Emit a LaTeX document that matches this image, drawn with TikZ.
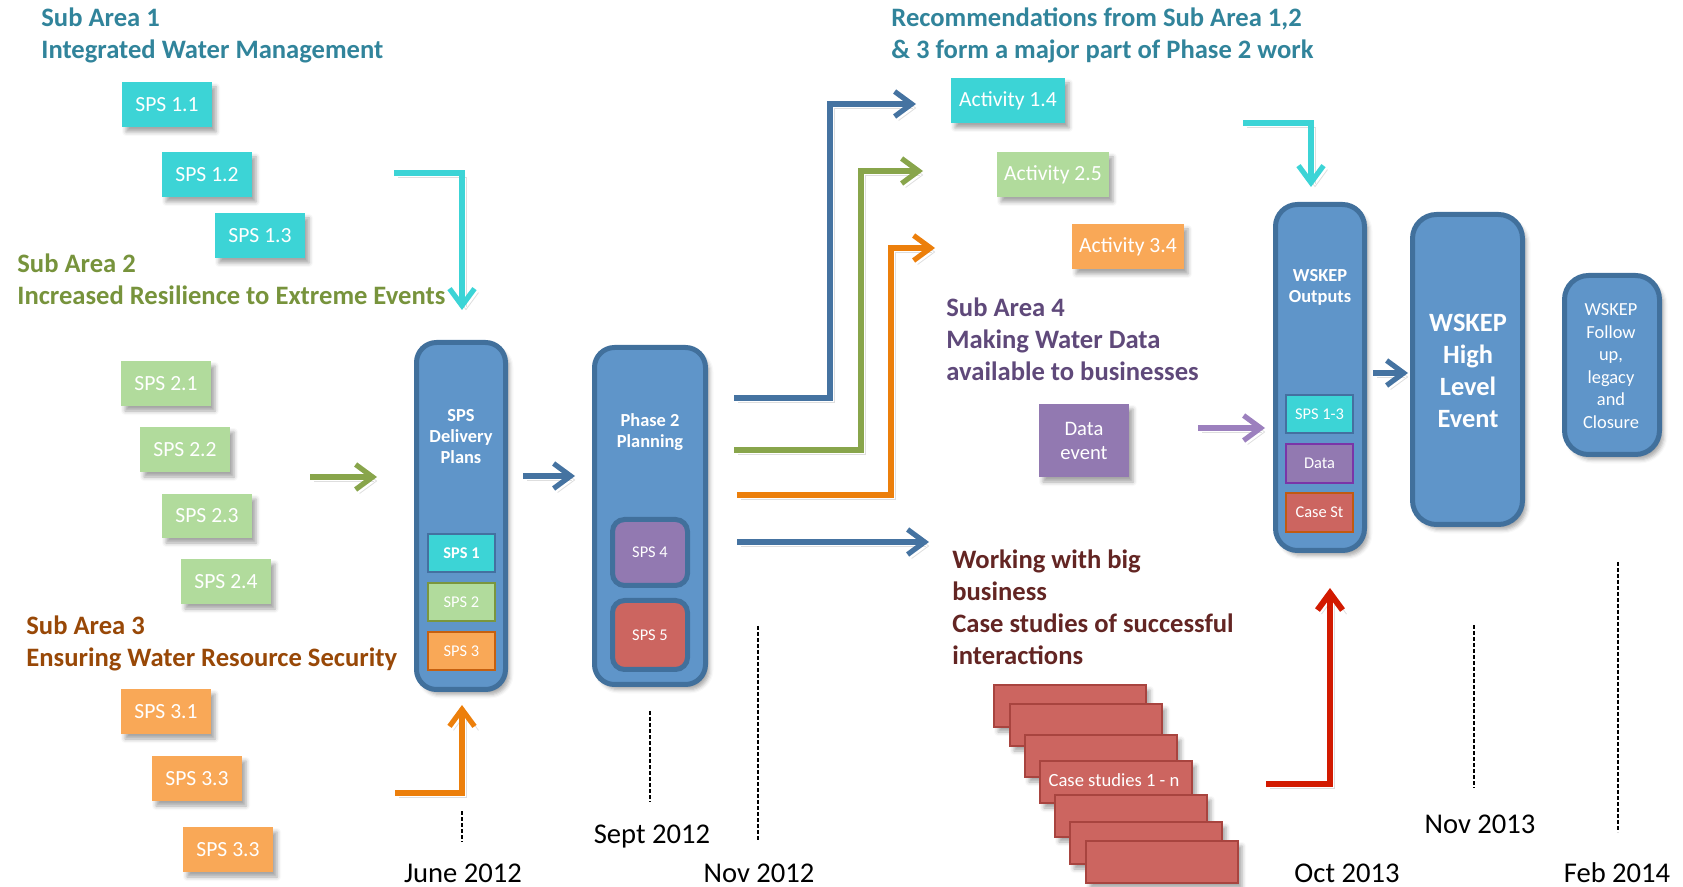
\documentclass[tikz,border=0pt]{standalone}
\usepackage{fontspec}
\setmainfont{Carlito}
\usetikzlibrary{arrows.meta,fit,shadows,shadows.blur}
\definecolor{cy}{HTML}{3CD4D6}
\definecolor{gr}{HTML}{B1DB9C}
\definecolor{og}{HTML}{F9A857}
\definecolor{bl}{HTML}{5F95C9}
\definecolor{blb}{HTML}{41709C}
\definecolor{pu}{HTML}{9279B1}
\definecolor{rd}{HTML}{CC6560}
\definecolor{rdb}{HTML}{A8443F}
\definecolor{grA}{HTML}{88A54B}
\definecolor{ogA}{HTML}{EC7F0B}
\definecolor{blA}{HTML}{4573A1}
\definecolor{puA}{HTML}{9C80BE}
\definecolor{rdA}{HTML}{D21A00}
\definecolor{hTeal}{HTML}{31849B}
\definecolor{hGreen}{HTML}{77933C}
\definecolor{hBrown}{HTML}{984807}
\definecolor{hPurple}{HTML}{5F497A}
\definecolor{hRed}{HTML}{632523}
\definecolor{sb1}{HTML}{4470A0}
\definecolor{sb2}{HTML}{7A963E}
\definecolor{sb3}{HTML}{C6600F}
\definecolor{dpu}{HTML}{7A35A8}
\definecolor{cso}{HTML}{C05A12}
\tikzset{
  shd/.style={blur shadow={shadow xshift=2pt, shadow yshift=-2.5pt, shadow blur radius=2pt, shadow opacity=35}},
  sbox/.style={inner sep=0pt, shd},
  stxt/.style={inner sep=0pt, text=white, font=\fontsize{10.8}{13}\selectfont},
  itxt/.style={inner sep=0pt, text=white, font=\fontsize{8.2}{10}\selectfont},
  bigbox/.style={draw=blb, fill=bl, line width=2.5pt, rounded corners=10pt, inner sep=0pt, shd},
  ibox/.style={inner sep=0pt, line width=1pt},
  rbox/.style={inner sep=0pt, draw=blb, line width=2.5pt, rounded corners=6pt},
  conn/.style={line width=2.6pt, -{Straight Barb[length=8.5pt,width=12.5pt]},
    preaction={draw=black, draw opacity=0.13, transform canvas={xshift=2pt,yshift=-2pt}}},
  head/.style={inner sep=0pt, anchor=base west, font=\fontsize{13.3}{16}\selectfont\bfseries},
  boxtxt/.style={inner sep=0pt, text=white, align=center},
  date/.style={inner sep=0pt, anchor=base, font=\fontsize{14.3}{17}\selectfont},
  tl/.style={line width=0.6pt, dash pattern=on 2pt off 1pt},
  cs/.style={inner sep=0pt, fill=rd, draw=rdb, line width=0.7pt, shd}
}
\begin{document}
\begin{tikzpicture}[x=0.5pt,y=-0.5pt]
\useasboundingbox (0,0) rectangle (1683,887);

% headings
\node[head, text=hTeal] (h1a) at (41,27) {Sub Area 1};
\node[head, text=hTeal] (h1b) at (41,59) {Integrated Water Management};
\node[head, text=hGreen] (h2a) at (17,273) {Sub Area 2};
\node[head, text=hGreen] (h2b) at (17,305) {Increased Resilience to Extreme Events};
\node[head, text=hBrown] (h3a) at (26,635) {Sub Area 3};
\node[head, text=hBrown] (h3b) at (26,667) {Ensuring Water Resource Security};
\node[head, text=hTeal] (rca) at (891,27) {Recommendations from Sub Area 1,2};
\node[head, text=hTeal] (rcb) at (891,59) {\& 3 form a major part of Phase 2 work};
\node[head, text=hPurple] (h4a) at (946,317) {Sub Area 4};
\node[head, text=hPurple] (h4b) at (946,349) {Making Water Data};
\node[head, text=hPurple] (h4c) at (946,381) {available to businesses};
\node[head, text=hRed] (wa) at (952,569) {Working with big};
\node[head, text=hRed] (wb) at (952,601) {business};
\node[head, text=hRed] (wc) at (952,633) {Case studies of successful};
\node[head, text=hRed] (wd) at (952,665) {interactions};

% SPS boxes
\node[sbox, fill=cy, fit={(122,82) (212,127)}, label={[stxt]center:SPS 1.1}] (s11) {};
\node[sbox, fill=cy, fit={(162,152) (252,197)}, label={[stxt]center:SPS 1.2}] (s12) {};
\node[sbox, fill=cy, fit={(215,213) (305,258)}, label={[stxt]center:SPS 1.3}] (s13) {};
\node[sbox, fill=gr, fit={(121,361) (211,406)}, label={[stxt]center:SPS 2.1}] (s21) {};
\node[sbox, fill=gr, fit={(140,427) (230,472)}, label={[stxt]center:SPS 2.2}] (s22) {};
\node[sbox, fill=gr, fit={(162,494) (252,538)}, label={[stxt]center:SPS 2.3}] (s23) {};
\node[sbox, fill=gr, fit={(181,559) (271,604)}, label={[stxt]center:SPS 2.4}] (s24) {};
\node[sbox, fill=og, fit={(121,689) (211,734)}, label={[stxt]center:SPS 3.1}] (s31) {};
\node[sbox, fill=og, fit={(152,756) (242,801)}, label={[stxt]center:SPS 3.3}] (s33a) {};
\node[sbox, fill=og, fit={(183,827) (273,872)}, label={[stxt]center:SPS 3.3}] (s33b) {};

% Activities
\node[sbox, fill=cy, fit={(951,78) (1065,123)}, label={[stxt]center:Activity 1.4}] (a14) {};
\node[sbox, fill=gr, fit={(997,152) (1109,197)}, label={[stxt]center:Activity 2.5}] (a25) {};
\node[sbox, fill=og, fit={(1072,224) (1184,269)}, label={[stxt]center:Activity 3.4}] (a34) {};

% Data event
\node[sbox, fill=pu, fit={(1039,404) (1129,477)}] (dev) {};
\node[boxtxt, font=\fontsize{10.3}{12}\selectfont] (devt) at (1084,441) {Data\\event};

% SPS delivery plans
\node[bigbox, fit={(416.5,342.5) (505.5,689.5)}] (sdp) {};
\node[boxtxt, font=\fontsize{9.2}{10.5}\selectfont\bfseries] (sdpt) at (461,437) {SPS\\Delivery\\Plans};
\node[ibox, fill=cy, draw=sb1, fit={(428,534) (495,572)}, label={[itxt, font=\fontsize{8.2}{10}\selectfont\bfseries]center:SPS 1}] (sp1) {};
\node[ibox, fill=gr, draw=sb2, fit={(428,583) (495,621)}, label={[itxt]center:SPS 2}] (sp2) {};
\node[ibox, fill=og, draw=sb3, fit={(428,632) (495,670)}, label={[itxt]center:SPS 3}] (sp3) {};

% Phase 2 planning
\node[bigbox, fit={(594.5,347.5) (705.5,684.5)}] (p2) {};
\node[boxtxt, font=\fontsize{9.2}{10.5}\selectfont\bfseries] (p2t) at (650,432) {Phase 2\\Planning};
\node[rbox, fill=pu, fit={(612.5,519.5) (687.5,585.5)}, label={[itxt]center:SPS 4}] (sp4) {};
\node[rbox, fill=rd, fit={(612.5,600.5) (687.5,669.5)}, label={[itxt]center:SPS 5}] (sp5) {};

% WSKEP outputs
\node[bigbox, rounded corners=11pt, fit={(1275.5,204.5) (1364.5,550.5)}] (wo) {};
\node[boxtxt, font=\fontsize{9.2}{10.5}\selectfont\bfseries] (wot) at (1320,287) {WSKEP\\Outputs};
\node[ibox, fill=cy, draw=sb1, fit={(1286,395) (1353,433)}, label={[itxt]center:SPS 1-3}] (o1) {};
\node[ibox, fill=pu, draw=dpu, fit={(1286,444) (1353,483)}, label={[itxt]center:Data}] (o2) {};
\node[ibox, fill=rd, draw=cso, fit={(1286,493) (1353,532)}, label={[itxt]center:Case St}] (o3) {};

% High level event
\node[bigbox, rounded corners=12pt, fit={(1412.5,214.5) (1522.5,524.5)}] (hle) {};
\node[boxtxt, font=\fontsize{13.2}{16}\selectfont\bfseries] (hlet) at (1468,371) {WSKEP\\High\\Level\\Event};

% Follow up
\node[bigbox, rounded corners=12pt, fit={(1564.5,275.5) (1659.5,454.5)}] (fu) {};
\node[boxtxt, font=\fontsize{9.2}{11.25}\selectfont] (fut) at (1611,366) {WSKEP\\Follow\\up,\\legacy\\and\\Closure};

% case studies stack
\foreach \i/\x/\y in {1/994/685, 2/1010/704, 3/1025/735, 4/1040/761, 5/1055/795, 6/1070/822, 7/1086/841}{
  \node[cs, fit={(\x,\y) (\x+152,\y+42)}] (cs\i) {};
}
\node[boxtxt, font=\fontsize{9.3}{11}\selectfont] (cst) at (1114,780) {Case studies 1 - n};

% connector coordinates
\coordinate (c1a) at (394,173); \coordinate (c1b) at (462,173); \coordinate (c1c) at (462,310);
\coordinate (g1a) at (310,477); \coordinate (g1b) at (377,477);
\coordinate (o1a) at (395,793); \coordinate (o1b) at (462,793); \coordinate (o1c) at (462,705);
\coordinate (b1a) at (523,476); \coordinate (b1b) at (575,476);
\coordinate (bta) at (734,398); \coordinate (btb) at (830,398); \coordinate (btc) at (830,104); \coordinate (btd) at (916,104);
\coordinate (gta) at (734,450); \coordinate (gtb) at (861,450); \coordinate (gtc) at (861,171); \coordinate (gtd) at (923,171);
\coordinate (ota) at (737,495); \coordinate (otb) at (891,495); \coordinate (otc) at (891,248); \coordinate (otd) at (935,248);
\coordinate (bsa) at (737,542); \coordinate (bsb) at (929,542);
\coordinate (pa) at (1198,428); \coordinate (pb) at (1265,428);
\coordinate (c2a) at (1243,123); \coordinate (c2b) at (1311,123); \coordinate (c2c) at (1311,187);
\coordinate (bha) at (1373,373); \coordinate (bhb) at (1408,373);
\coordinate (ra) at (1266,784); \coordinate (rb) at (1330,784); \coordinate (rc) at (1330,588);

\draw[conn, cy] (c1a) -- (c1b) -- (c1c);
\draw[conn, grA] (g1a) -- (g1b);
\draw[conn, ogA] (o1a) -- (o1b) -- (o1c);
\draw[conn, blA] (b1a) -- (b1b);
\draw[conn, blA] (bta) -- (btb) -- (btc) -- (btd);
\draw[conn, grA] (gta) -- (gtb) -- (gtc) -- (gtd);
\draw[conn, ogA] (ota) -- (otb) -- (otc) -- (otd);
\draw[conn, blA] (bsa) -- (bsb);
\draw[conn, puA] (pa) -- (pb);
\draw[conn, cy] (c2a) -- (c2b) -- (c2c);
\draw[conn, blA] (bha) -- (bhb);
\draw[conn, rdA, line width=3pt] (ra) -- (rb) -- (rc);

% timeline
\coordinate (t1a) at (462,811); \coordinate (t1b) at (462,842);
\coordinate (t2a) at (650,711); \coordinate (t2b) at (650,802);
\coordinate (t3a) at (758,626); \coordinate (t3b) at (758,840);
\coordinate (t4a) at (1474,625); \coordinate (t4b) at (1474,788);
\coordinate (t5a) at (1618,562); \coordinate (t5b) at (1618,832);
\draw[tl] (t1a) -- (t1b);
\draw[tl] (t2a) -- (t2b);
\draw[tl] (t3a) -- (t3b);
\draw[tl] (t4a) -- (t4b);
\draw[tl] (t5a) -- (t5b);

\node[date] (d1) at (463,882) {June 2012};
\node[date] (d2) at (652,843) {Sept 2012};
\node[date] (d3) at (759,882) {Nov 2012};
\node[date] (d4) at (1347,882) {Oct 2013};
\node[date] (d5) at (1480,833) {Nov 2013};
\node[date] (d6) at (1617,882) {Feb 2014};
\end{tikzpicture}
\end{document}
